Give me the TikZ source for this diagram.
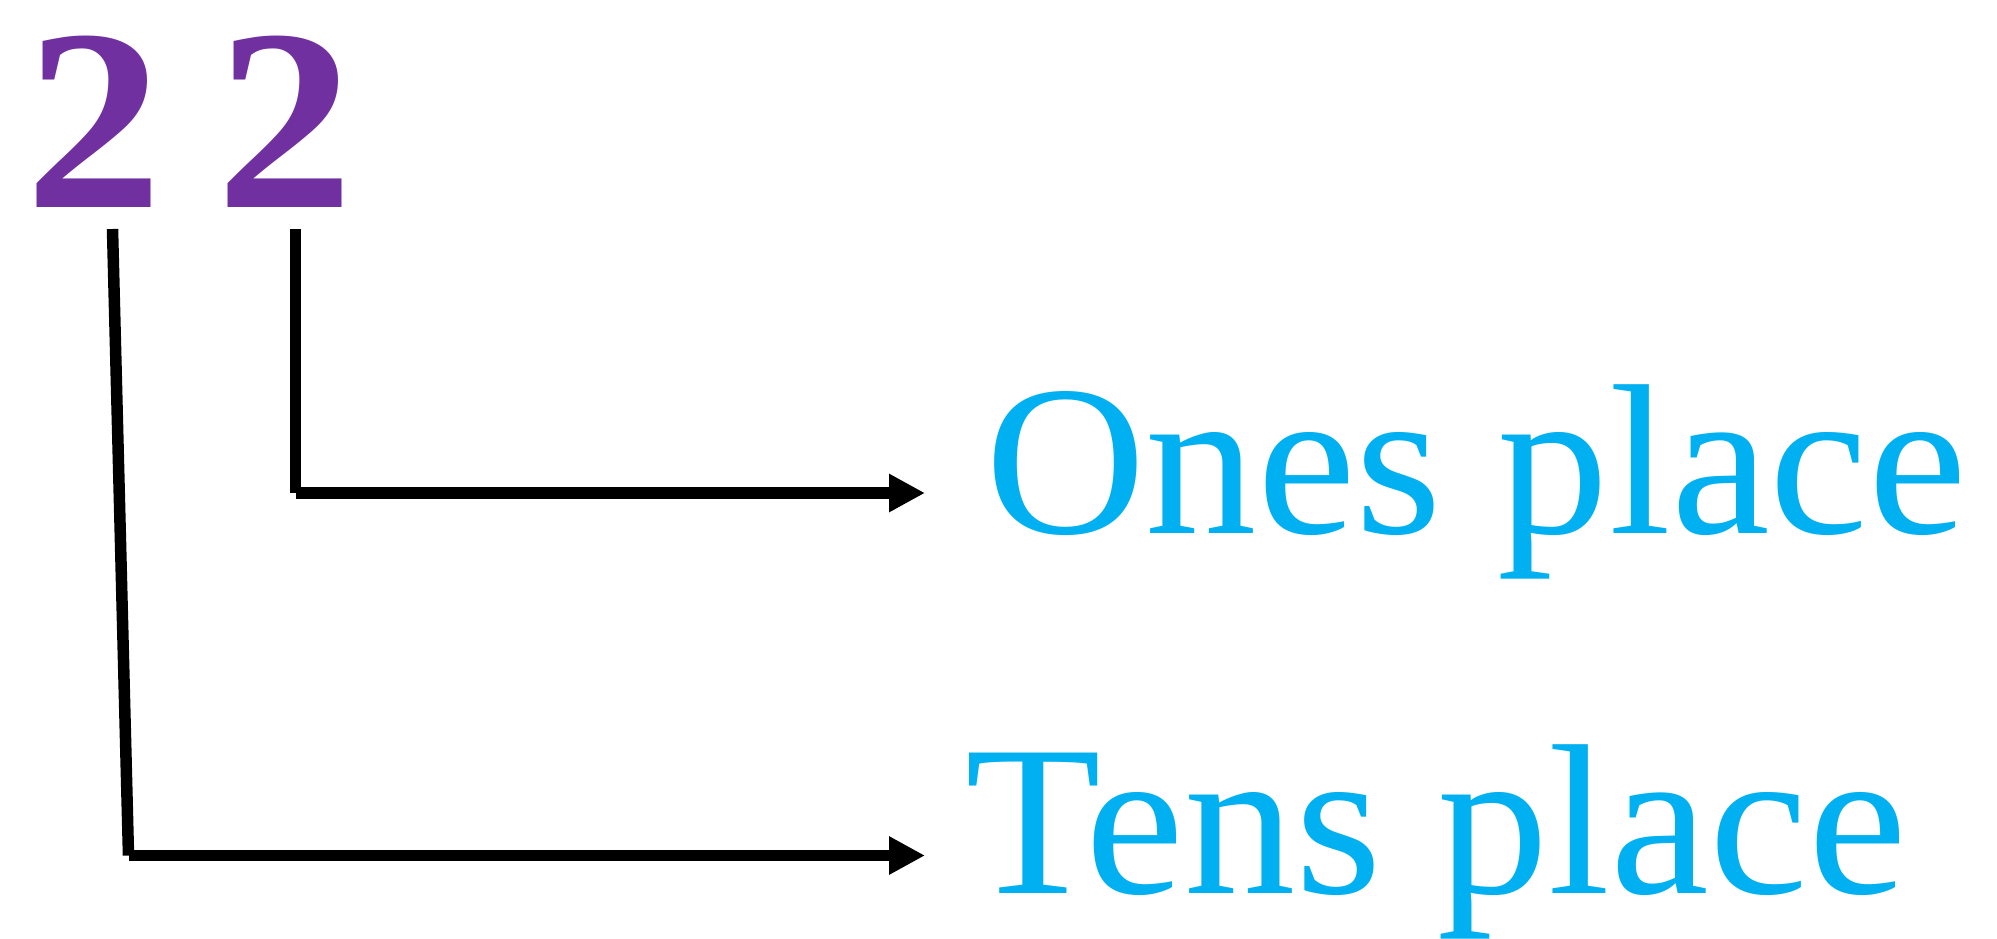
\documentclass[tikz,border=0pt]{standalone}
\usepackage{fontspec}
\setmainfont{Liberation Serif}
\usetikzlibrary{arrows.meta}
\definecolor{digitpurple}{HTML}{7030A0}
\definecolor{labelcyan}{HTML}{00B0F0}
\newlength\oneswd
\newcommand{\labelfont}{\fontsize{214.5}{250}\selectfont}
\newcommand{\widedigit}[1]{\scalebox{1.06}[1]{#1}}
\newcommand{\widelabel}[1]{\scalebox{\labscale}[1]{#1}}
\begin{document}
\settowidth{\oneswd}{\labelfont Ones place}%
\pgfmathsetmacro\labscale{982/\oneswd}%
\begin{tikzpicture}[x=1pt,y=-1pt,
  digit/.style={anchor=base west,inner sep=0pt,text=digitpurple,font=\fontsize{259}{260}\selectfont\bfseries},
  placelabel/.style={anchor=base west,inner sep=0pt,text=labelcyan,font=\labelfont},
  conn/.style={line width=11.5pt,line cap=butt},
  pointer/.style={conn,-{Triangle[length=36pt,width=36pt]}}]
\useasboundingbox (0,0) rectangle (1997,938);
% digits
\node[digit] (d1) at (25,207) {\widedigit{2}};
\node[digit] (d2) at (216,207) {\widedigit{2}};
% labels
\node[placelabel] (ones) at (985,533) {\widelabel{Ones place}};
\node[placelabel] (tens) at (965,893) {\widelabel{Tens place}};
% connector points
\coordinate (t1) at (112.5,229);
\coordinate (c1) at (128.5,855.5);
\coordinate (t2) at (295.5,229);
\coordinate (c2) at (295.5,493);
% tens connector
\draw[conn] (t1) -- (c1);
\draw[pointer,shorten >=40pt] (c1) -- (c1 -| tens.west);
% ones connector
\draw[conn] (t2) -- (c2);
\draw[pointer,shorten >=60pt] (c2) -- (c2 -| ones.west);
\end{tikzpicture}
\end{document}
